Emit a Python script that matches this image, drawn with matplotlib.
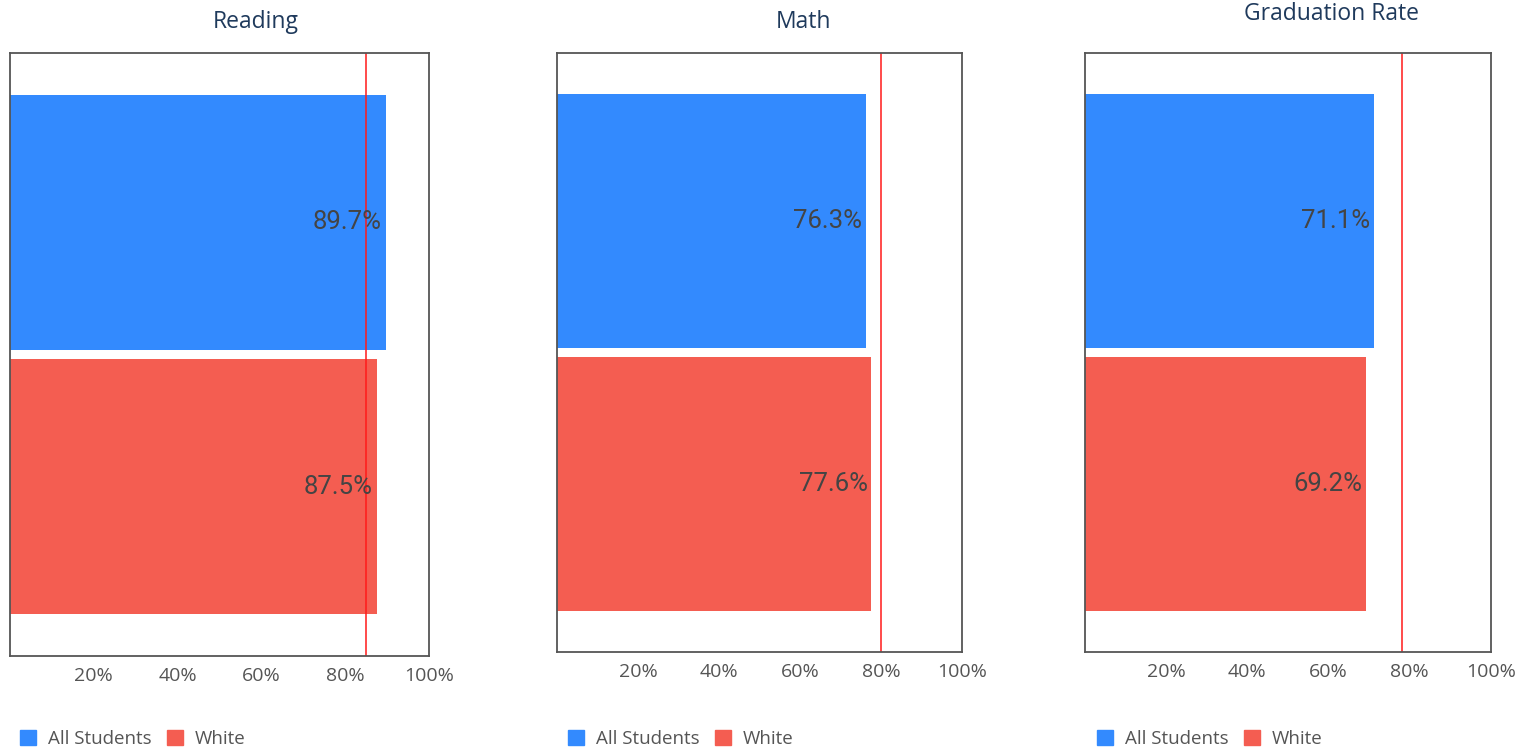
import matplotlib.pyplot as plt
from matplotlib.patches import Patch

plt.rcParams['font.family'] = ['Open Sans', 'DejaVu Sans']

titles = ['Reading', 'Math', 'Graduation Rate']
groups = ['All Students', 'White']
all_students = [89.7, 76.3, 71.1]
white = [87.5, 77.6, 69.2]
targets = [85, 80, 78]
ticks = [20, 40, 60, 80, 100]
tick_labels = ['20%', '40%', '60%', '80%', '100%']

blue = '#338afe'
red = '#f45d51'
colors = [blue, red]

W, H = 1537, 747
fig = plt.figure(figsize=(W / 100, H / 100), dpi=100)

# axes boxes in pixels: left, right, top, bottom
boxes = [(10, 429, 53, 656), (557, 962, 53, 652), (1085, 1491, 53, 652)]
title_pos = [(256, 22), (803, 22), (1332, 14)]
legend_x = [18, 566, 1095]

for i, (l, r, t, b) in enumerate(boxes):
    ax = fig.add_axes([l / W, 1 - b / H, (r - l) / W, (b - t) / H])
    vals = [all_students[i], white[i]]
    ax.barh([0, 1], vals, height=0.966, color=colors)
    ax.set_xlim(0, 100)
    ax.set_ylim(1.64, -0.64)
    ax.axvline(targets[i], color='#ff1a1a', lw=1.1)
    for y, v in zip([0, 1], vals):
        ax.text(v - 0.9, y, f'{v:.1f}%', ha='right', va='center',
                fontsize=18.5, color='#444444',
                family=['Roboto', 'DejaVu Sans'])
    ax.set_xticks(ticks)
    ax.set_xticklabels(tick_labels)
    ax.set_yticks([])
    ax.tick_params(axis='x', length=0, pad=8, labelsize=14, labelcolor='#555555')
    for s in ax.spines.values():
        s.set_color('#555555')
        s.set_linewidth(1.3)
    tx, ty = title_pos[i]
    fig.text(tx / W, 1 - ty / H, titles[i], ha='center',
             va='center', fontsize=16.5, color='#1f3a5c')
    handles = [Patch(color=c, label=g) for c, g in zip(colors, groups)]
    fig.legend(handles=handles, loc='lower left', ncol=2, frameon=False,
               bbox_to_anchor=(legend_x[i] / W, -0.004), borderaxespad=0,
               borderpad=0.1, labelcolor='#555555', prop={'size': 13.5},
               handlelength=0.85, handleheight=0.85, handletextpad=0.65,
               columnspacing=0.8)

fig.savefig('out.png', dpi=100)
